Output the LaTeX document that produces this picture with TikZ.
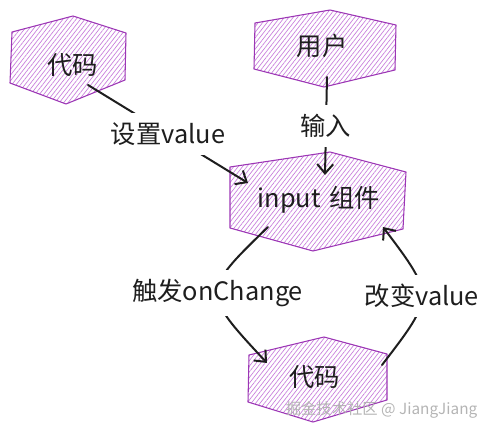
\documentclass[tikz,border=0pt]{standalone}
\usepackage{fontspec}
\setmainfont{Noto Sans CJK SC}
\usetikzlibrary{arrows.meta,patterns.meta}
\definecolor{hexline}{HTML}{9C36B5}
\definecolor{hexhatch}{HTML}{C77DDB}
\definecolor{ink}{HTML}{1E1E1E}
\definecolor{wmark}{HTML}{B4B4B4}
\begin{document}
\begin{tikzpicture}[x=0.75pt,y=-0.75pt,
  hexshape/.style={draw=hexline, line width=0.8pt, line join=round,
    pattern={Lines[angle=52,distance=2.6pt,line width=0.5pt]}, pattern color=hexhatch},
  txt/.style={font=\fontsize{19}{22}\selectfont, text=ink, inner sep=0pt},
  arr/.style={draw=ink, line width=1.5pt, line cap=round,
    -{Straight Barb[length=7pt,width=12pt,line width=1.5pt]}},
  cut/.style={txt, fill=white, inner xsep=3pt, inner ysep=7pt}]
\useasboundingbox (0,0) rectangle (494,432);

% hexagons
\draw[hexshape] (73,16) -- (126,33) -- (125,80) -- (66,104) -- (10,83) -- (12,32) -- cycle;
\draw[hexshape] (330,10) -- (396,25) -- (395,70) -- (324,87) -- (254,69) -- (255,23) -- cycle;
\draw[hexshape] (330,152) -- (406,172) -- (403,229) -- (313,251) -- (230,228) -- (230,167) -- cycle;
\draw[hexshape] (324,337) -- (387,354) -- (387,400) -- (313,422) -- (248,402) -- (249,355) -- cycle;

\node[txt] (code1) at (73,65) {代码};
\node[txt] (user) at (322,46) {用户};
\node[txt] (input) at (319,200) {input\hspace{0.35em}组件};
\node[txt] (code2) at (315,377) {代码};

% connector end points
\coordinate (a1s) at (88,85);   \coordinate (a1e) at (248,183);
\coordinate (a2s) at (327,77);  \coordinate (a2e) at (325,175);
\coordinate (a3s) at (268,227); \coordinate (a3e) at (267,363);
\coordinate (a4s) at (382,365); \coordinate (a4e) at (383,227);

\draw[arr] (a1s) -- node[cut] (l1) {设置value} (a1e);
\draw[arr] (a2s) -- node[cut] (l2) {输入} (a2e);
\draw[arr] (a3s) .. controls (201,292) .. node[cut] (l3) {触发onChange} (a3e);
\draw[arr] (a4s) .. controls (435,296) .. node[cut] (l4) {改变value} (a4e);

\node[font=\fontsize{11.5}{13}\selectfont, text=wmark, anchor=east] (wm) at (482,410) {掘金技术社区 @ JiangJiang};
\end{tikzpicture}
\end{document}
